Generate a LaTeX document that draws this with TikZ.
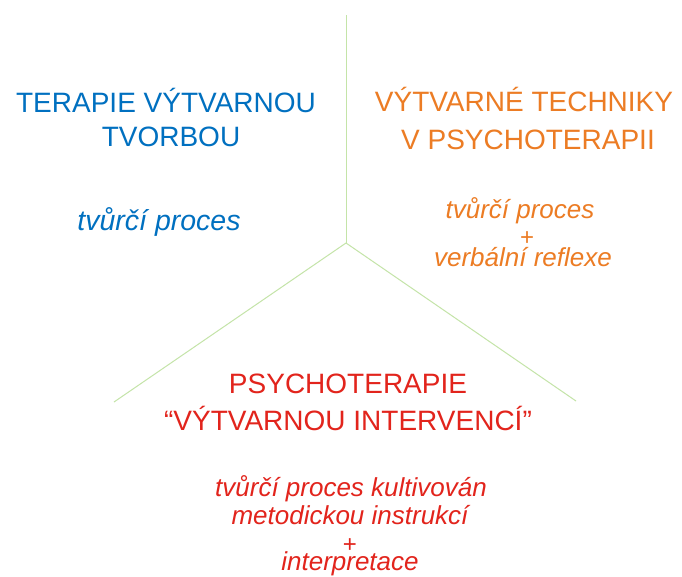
\documentclass[tikz,border=0pt]{standalone}
\usepackage{fontspec}
\setmainfont{Liberation Sans}
\definecolor{tblue}{RGB}{0,112,192}
\definecolor{torange}{RGB}{236,124,36}
\definecolor{tred}{RGB}{226,36,28}
\definecolor{tgreen}{RGB}{196,228,168}
\begin{document}
\begin{tikzpicture}[x=1pt,y=-1pt,
  head/.style={inner sep=0pt,anchor=base,font=\fontsize{28}{30}\selectfont},
  sub/.style={inner sep=0pt,anchor=base,text height=16pt,font=\fontsize{26}{28}\selectfont\itshape},
  plus/.style={inner sep=0pt,anchor=base,text depth=0pt,font=\fontsize{24}{26}\selectfont},
  sep/.style={draw=tgreen,line width=1pt}]
\useasboundingbox[fill=white] (0,0) rectangle (682,576);
% separators
\coordinate (c) at (346,243);
\coordinate (top) at (346,15);
\coordinate (bl) at (114,402);
\coordinate (br) at (576,401);
\draw[sep] (c) -- (top);
\draw[sep] (c) -- (bl);
\draw[sep] (c) -- (br);
% blue
\node[head,text=tblue] (b1) at (166,112) {TERAPIE VÝTVARNOU};
\node[head,text=tblue] (b2) at (171,146) {TVORBOU};
\node[sub,text=tblue,font=\fontsize{28.5}{30}\selectfont\itshape] (b3) at (159,230) {tvůrčí proces};
% orange
\node[head,text=torange] (o1) at (524,111) {VÝTVARNÉ TECHNIKY};
\node[head,text=torange] (o2) at (528,149) {V PSYCHOTERAPII};
\node[sub,text=torange] (o3) at (520,218) {tvůrčí proces};
\node[plus,text=torange] (o4) at (527,245) {+};
\node[sub,text=torange] (o5) at (523,266) {verbální reflexe};
% red
\node[head,text=tred] (r1) at (348,393) {PSYCHOTERAPIE};
\node[head,text=tred] (r2) at (348,430) {“VÝTVARNOU INTERVENCÍ”};
\node[sub,text=tred] (r3) at (351,496) {tvůrčí proces kultivován};
\node[sub,text=tred] (r4) at (350,524) {metodickou instrukcí};
\node[plus,text=tred] (r5) at (350,552) {+};
\node[sub,text=tred] (r6) at (350,570) {interpretace};
\end{tikzpicture}
\end{document}
